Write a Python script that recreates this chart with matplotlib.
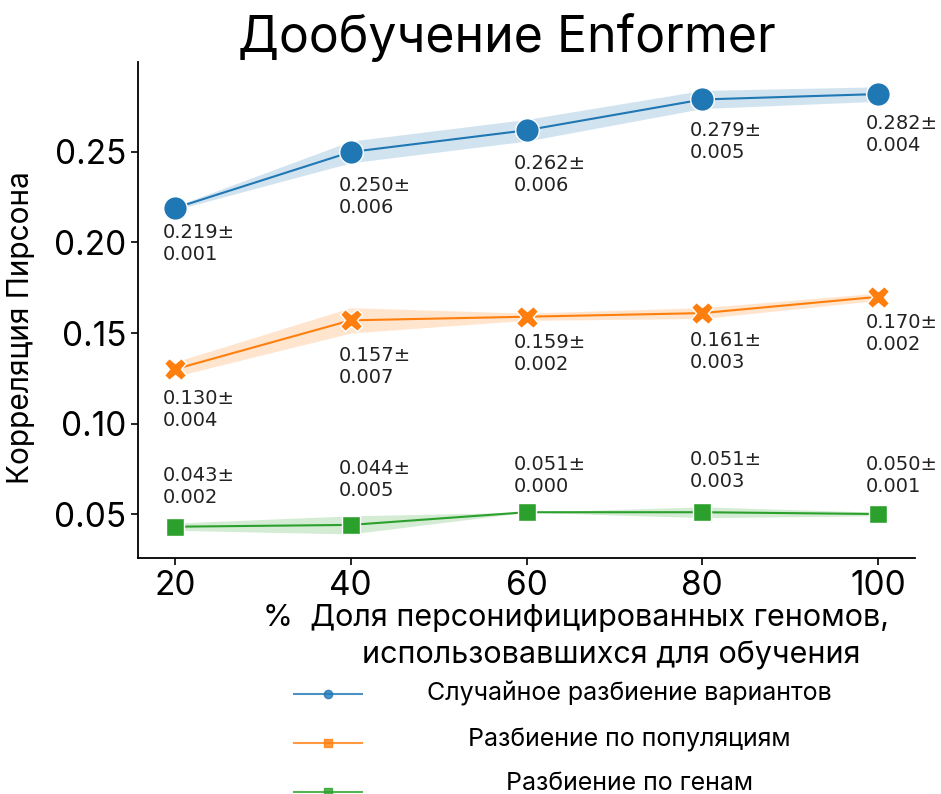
import matplotlib
matplotlib.use("Agg")
import matplotlib.pyplot as plt
from matplotlib.lines import Line2D

# доля геномов (%) и корреляция Пирсона: среднее и стандартное отклонение
share = [20, 40, 60, 80, 100]

random_mean = [0.219, 0.250, 0.262, 0.279, 0.282]
random_std = [0.001, 0.006, 0.006, 0.005, 0.004]

pop_mean = [0.130, 0.157, 0.159, 0.161, 0.170]
pop_std = [0.004, 0.007, 0.002, 0.003, 0.002]

gene_mean = [0.043, 0.044, 0.051, 0.051, 0.050]
gene_std = [0.002, 0.005, 0.000, 0.003, 0.001]

labels = ["Случайное разбиение вариантов",
          "Разбиение по популяциям",
          "Разбиение по генам"]

plt.rcParams['font.family'] = ['Inter', 'DejaVu Sans']

fig = plt.figure(figsize=(9.41, 7.94), dpi=100)
ax = fig.add_axes([0.1467, 0.2972, 0.8257, 0.6247])

series = [
    (random_mean, random_std, '#1f77b4', 'o', 17, 'below'),
    (pop_mean, pop_std, '#ff7f0e', 'X', 16, 'below'),
    (gene_mean, gene_std, '#2ca02c', 's', 13, 'above'),
]

for mean, std, color, marker, ms, where in series:
    lo = [m - s for m, s in zip(mean, std)]
    hi = [m + s for m, s in zip(mean, std)]
    ax.fill_between(share, lo, hi, color=color, alpha=0.2, linewidth=0)
    ax.plot(share, mean, color=color, linewidth=1.5, marker=marker,
            markersize=ms, markeredgecolor='white', markeredgewidth=1)
    # подписи значений под/над точками
    for x, m, s in zip(share, mean, std):
        txt = f"{m:.3f}±\n{s:.3f}"
        if where == 'below':
            ax.text(x - 1.4, m - s - 0.007, txt, ha='left', va='top',
                    fontsize=14, family='DejaVu Sans', color='#222222')
        else:
            ax.text(x - 1.4, m + s + 0.009, txt, ha='left', va='bottom',
                    fontsize=14, family='DejaVu Sans', color='#222222')

ax.set_xlim(15.8, 104.2)
ax.set_ylim(0.0257, 0.2997)
ax.set_xticks(share)
ax.set_yticks([0.05, 0.10, 0.15, 0.20, 0.25])
ax.set_yticklabels(["0.05", "0.10", "0.15", "0.20", "0.25"])
ax.tick_params(axis='both', labelsize=24, length=5, width=1.2)

for side in ['top', 'right']:
    ax.spines[side].set_visible(False)
for side in ['left', 'bottom']:
    ax.spines[side].set_linewidth(1.3)

ax.set_title("Дообучение Enformer", fontsize=36, x=0.475, pad=7)
ax.set_ylabel("Корреляция Пирсона", fontsize=21.5)
ax.yaxis.set_label_coords(-0.133, 0.464)
ax.set_xlabel("%  Доля персонифицированных геномов,\n"
              "        использовавшихся для обучения", fontsize=22,
              linespacing=1.4)
ax.xaxis.set_label_coords(0.564, -0.093)

# легенда с маленькими маркерами и текстом по центру
handles = [
    Line2D([], [], color='#1f77b4', alpha=0.8, linewidth=1.5, marker='o', markersize=6),
    Line2D([], [], color='#ff7f0e', alpha=0.8, linewidth=1.5, marker='s', markersize=6),
    Line2D([], [], color='#2ca02c', alpha=0.8, linewidth=1.5, marker='s', markersize=6),
]
leg = fig.legend(handles, labels, loc='upper left', bbox_to_anchor=(0.3014, 0.152),
                 frameon=False, fontsize=18, handlelength=2.75, handletextpad=2.6,
                 labelspacing=1.0, borderaxespad=0)
fig.canvas.draw()
renderer = fig.canvas.get_renderer()
widths = [t.get_window_extent(renderer).width for t in leg.get_texts()]
w = max(widths)
for t, wi, dy in zip(leg.get_texts(), widths, [2, 5, 10]):
    t.set_position(((w - wi) / 2, dy))

fig.savefig("out.png", dpi=100)
